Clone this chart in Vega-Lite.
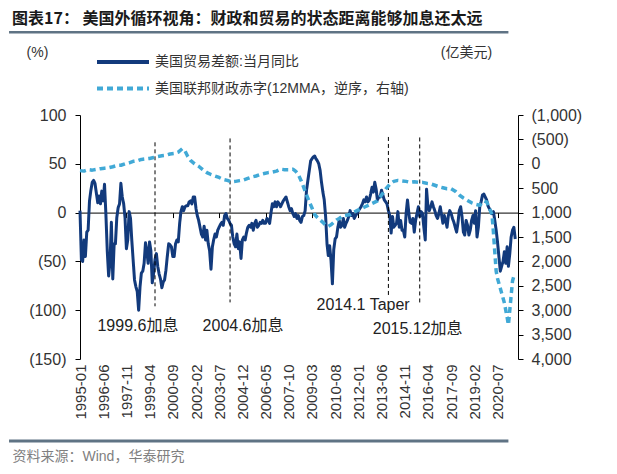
{
  "$schema": "https://vega.github.io/schema/vega-lite/v6.json",
  "width": 438,
  "height": 244,
  "autosize": {"type": "none"},
  "padding": {"left": 80, "top": 115, "right": 99, "bottom": 115},
  "background": "#ffffff",
  "config": {"view": {"stroke": null}, "font": "Liberation Sans, Noto Sans CJK SC"},
  "title": {
    "text": "图表17： 美国外循环视角：财政和贸易的状态距离能够加息还太远",
    "anchor": "start",
    "frame": "group",
    "font": "Noto Sans CJK SC",
    "fontSize": 16,
    "fontWeight": "bold",
    "color": "#1a1a1a",
    "dx": -68,
    "offset": 4
  },
  "datasets": {
    "trade": [
      {"d":"1995-01","v":2},{"d":"1995-02","v":-48},{"d":"1995-03","v":-50},{"d":"1995-04","v":-28},{"d":"1995-05","v":-45},{"d":"1995-06","v":-20},{"d":"1995-07","v":-18},{"d":"1995-08","v":12},{"d":"1995-09","v":23},{"d":"1995-10","v":31},{"d":"1995-11","v":33},{"d":"1995-12","v":30},
      {"d":"1996-01","v":20},{"d":"1996-02","v":10},{"d":"1996-03","v":17},{"d":"1996-04","v":9},{"d":"1996-05","v":22},{"d":"1996-06","v":12},{"d":"1996-07","v":29},{"d":"1996-08","v":-2},{"d":"1996-09","v":-40},{"d":"1996-10","v":-65},{"d":"1996-11","v":-50},{"d":"1996-12","v":-10},
      {"d":"1997-01","v":-68},{"d":"1997-02","v":-32},{"d":"1997-03","v":-32},{"d":"1997-04","v":-5},{"d":"1997-05","v":5},{"d":"1997-06","v":9},{"d":"1997-07","v":30},{"d":"1997-08","v":16},{"d":"1997-09","v":9},{"d":"1997-10","v":-5},{"d":"1997-11","v":-37},{"d":"1997-12","v":-28},
      {"d":"1998-01","v":1},{"d":"1998-02","v":-6},{"d":"1998-03","v":-28},{"d":"1998-04","v":-49},{"d":"1998-05","v":-69},{"d":"1998-06","v":-76},{"d":"1998-07","v":-81},{"d":"1998-08","v":-100},{"d":"1998-09","v":-76},{"d":"1998-10","v":-62},{"d":"1998-11","v":-60},{"d":"1998-12","v":-52},
      {"d":"1999-01","v":-31},{"d":"1999-02","v":-40},{"d":"1999-03","v":-52},{"d":"1999-04","v":-30},{"d":"1999-05","v":-39},{"d":"1999-06","v":-72},{"d":"1999-07","v":-62},{"d":"1999-08","v":-48},{"d":"1999-09","v":-42},{"d":"1999-10","v":-55},{"d":"1999-11","v":-63},{"d":"1999-12","v":-68},
      {"d":"2000-01","v":-77},{"d":"2000-02","v":-71},{"d":"2000-03","v":-69},{"d":"2000-04","v":-59},{"d":"2000-05","v":-45},{"d":"2000-06","v":-32},{"d":"2000-07","v":-33},{"d":"2000-08","v":-35},{"d":"2000-09","v":-45},{"d":"2000-10","v":-45},{"d":"2000-11","v":-32},{"d":"2000-12","v":-28},
      {"d":"2001-01","v":-30},{"d":"2001-02","v":-11},{"d":"2001-03","v":1},{"d":"2001-04","v":6},{"d":"2001-05","v":2},{"d":"2001-06","v":6},{"d":"2001-07","v":7},{"d":"2001-08","v":7},{"d":"2001-09","v":11},{"d":"2001-10","v":12},{"d":"2001-11","v":9},{"d":"2001-12","v":16},
      {"d":"2002-01","v":16},{"d":"2002-02","v":4},{"d":"2002-03","v":-3},{"d":"2002-04","v":-8},{"d":"2002-05","v":-15},{"d":"2002-06","v":-22},{"d":"2002-07","v":-25},{"d":"2002-08","v":-14},{"d":"2002-09","v":-28},{"d":"2002-10","v":-18},{"d":"2002-11","v":-32},{"d":"2002-12","v":-39},
      {"d":"2003-01","v":-58},{"d":"2003-02","v":-35},{"d":"2003-03","v":-28},{"d":"2003-04","v":-22},{"d":"2003-05","v":-25},{"d":"2003-06","v":-18},{"d":"2003-07","v":-15},{"d":"2003-08","v":-12},{"d":"2003-09","v":-10},{"d":"2003-10","v":-13},{"d":"2003-11","v":-3},{"d":"2003-12","v":-1},
      {"d":"2004-01","v":-6},{"d":"2004-02","v":-8},{"d":"2004-03","v":-11},{"d":"2004-04","v":-13},{"d":"2004-05","v":-25},{"d":"2004-06","v":-32},{"d":"2004-07","v":-35},{"d":"2004-08","v":-22},{"d":"2004-09","v":-37},{"d":"2004-10","v":-30},{"d":"2004-11","v":-47},{"d":"2004-12","v":-28},
      {"d":"2005-01","v":-25},{"d":"2005-02","v":-28},{"d":"2005-03","v":-21},{"d":"2005-04","v":-15},{"d":"2005-05","v":-13},{"d":"2005-06","v":-15},{"d":"2005-07","v":-11},{"d":"2005-08","v":-18},{"d":"2005-09","v":-11},{"d":"2005-10","v":-8},{"d":"2005-11","v":-15},{"d":"2005-12","v":-13},
      {"d":"2006-01","v":-10},{"d":"2006-02","v":-11},{"d":"2006-03","v":-8},{"d":"2006-04","v":-11},{"d":"2006-05","v":-11},{"d":"2006-06","v":-6},{"d":"2006-07","v":-8},{"d":"2006-08","v":-11},{"d":"2006-09","v":0},{"d":"2006-10","v":9},{"d":"2006-11","v":6},{"d":"2006-12","v":11},
      {"d":"2007-01","v":6},{"d":"2007-02","v":11},{"d":"2007-03","v":9},{"d":"2007-04","v":6},{"d":"2007-05","v":9},{"d":"2007-06","v":12},{"d":"2007-07","v":14},{"d":"2007-08","v":16},{"d":"2007-09","v":11},{"d":"2007-10","v":6},{"d":"2007-11","v":2},{"d":"2007-12","v":4},
      {"d":"2008-01","v":-1},{"d":"2008-02","v":-4},{"d":"2008-03","v":-1},{"d":"2008-04","v":-6},{"d":"2008-05","v":-3},{"d":"2008-06","v":-8},{"d":"2008-07","v":-10},{"d":"2008-08","v":-4},{"d":"2008-09","v":-3},{"d":"2008-10","v":2},{"d":"2008-11","v":23},{"d":"2008-12","v":33},
      {"d":"2009-01","v":43},{"d":"2009-02","v":53},{"d":"2009-03","v":55},{"d":"2009-04","v":57},{"d":"2009-05","v":58},{"d":"2009-06","v":55},{"d":"2009-07","v":53},{"d":"2009-08","v":50},{"d":"2009-09","v":43},{"d":"2009-10","v":31},{"d":"2009-11","v":21},{"d":"2009-12","v":13},
      {"d":"2010-01","v":-4},{"d":"2010-02","v":-32},{"d":"2010-03","v":-44},{"d":"2010-04","v":-34},{"d":"2010-05","v":-49},{"d":"2010-06","v":-73},{"d":"2010-07","v":-38},{"d":"2010-08","v":-27},{"d":"2010-09","v":-25},{"d":"2010-10","v":-15},{"d":"2010-11","v":-8},{"d":"2010-12","v":-15},
      {"d":"2011-01","v":-13},{"d":"2011-02","v":-6},{"d":"2011-03","v":-15},{"d":"2011-04","v":-11},{"d":"2011-05","v":-8},{"d":"2011-06","v":-4},{"d":"2011-07","v":2},{"d":"2011-08","v":-3},{"d":"2011-09","v":-1},{"d":"2011-10","v":-6},{"d":"2011-11","v":-3},{"d":"2011-12","v":-1},
      {"d":"2012-01","v":2},{"d":"2012-02","v":4},{"d":"2012-03","v":6},{"d":"2012-04","v":9},{"d":"2012-05","v":13},{"d":"2012-06","v":11},{"d":"2012-07","v":16},{"d":"2012-08","v":11},{"d":"2012-09","v":13},{"d":"2012-10","v":19},{"d":"2012-11","v":26},{"d":"2012-12","v":21},
      {"d":"2013-01","v":31},{"d":"2013-02","v":24},{"d":"2013-03","v":13},{"d":"2013-04","v":16},{"d":"2013-05","v":16},{"d":"2013-06","v":23},{"d":"2013-07","v":18},{"d":"2013-08","v":13},{"d":"2013-09","v":11},{"d":"2013-10","v":9},{"d":"2013-11","v":2},{"d":"2013-12","v":-3},
      {"d":"2014-01","v":-21},{"d":"2014-02","v":-4},{"d":"2014-03","v":-15},{"d":"2014-04","v":-13},{"d":"2014-05","v":-11},{"d":"2014-06","v":1},{"d":"2014-07","v":-15},{"d":"2014-08","v":-8},{"d":"2014-09","v":-18},{"d":"2014-10","v":-18},{"d":"2014-11","v":-25},{"d":"2014-12","v":-1},
      {"d":"2015-01","v":13},{"d":"2015-02","v":-1},{"d":"2015-03","v":-10},{"d":"2015-04","v":-11},{"d":"2015-05","v":-6},{"d":"2015-06","v":-20},{"d":"2015-07","v":-8},{"d":"2015-08","v":-1},{"d":"2015-09","v":6},{"d":"2015-10","v":-4},{"d":"2015-11","v":1},{"d":"2015-12","v":-1},
      {"d":"2016-01","v":-15},{"d":"2016-02","v":-28},{"d":"2016-03","v":24},{"d":"2016-04","v":6},{"d":"2016-05","v":2},{"d":"2016-06","v":6},{"d":"2016-07","v":11},{"d":"2016-08","v":6},{"d":"2016-09","v":2},{"d":"2016-10","v":-3},{"d":"2016-11","v":-6},{"d":"2016-12","v":-1},
      {"d":"2017-01","v":6},{"d":"2017-02","v":-3},{"d":"2017-03","v":-11},{"d":"2017-04","v":-3},{"d":"2017-05","v":-8},{"d":"2017-06","v":-15},{"d":"2017-07","v":-3},{"d":"2017-08","v":2},{"d":"2017-09","v":-1},{"d":"2017-10","v":-6},{"d":"2017-11","v":-10},{"d":"2017-12","v":-15},
      {"d":"2018-01","v":-20},{"d":"2018-02","v":-10},{"d":"2018-03","v":2},{"d":"2018-04","v":6},{"d":"2018-05","v":-4},{"d":"2018-06","v":-20},{"d":"2018-07","v":-23},{"d":"2018-08","v":-8},{"d":"2018-09","v":-13},{"d":"2018-10","v":-23},{"d":"2018-11","v":-18},{"d":"2018-12","v":-8},
      {"d":"2019-01","v":-3},{"d":"2019-02","v":-11},{"d":"2019-03","v":2},{"d":"2019-04","v":-25},{"d":"2019-05","v":-15},{"d":"2019-06","v":6},{"d":"2019-07","v":11},{"d":"2019-08","v":18},{"d":"2019-09","v":19},{"d":"2019-10","v":16},{"d":"2019-11","v":13},{"d":"2019-12","v":7},
      {"d":"2020-01","v":4},{"d":"2020-02","v":1},{"d":"2020-03","v":-1},{"d":"2020-04","v":1},{"d":"2020-05","v":-8},{"d":"2020-06","v":-18},{"d":"2020-07","v":-30},{"d":"2020-08","v":-45},{"d":"2020-09","v":-60},{"d":"2020-10","v":-55},{"d":"2020-11","v":-50},{"d":"2020-12","v":-40},
      {"d":"2021-01","v":-52},{"d":"2021-02","v":-35},{"d":"2021-03","v":-55},{"d":"2021-04","v":-42},{"d":"2021-05","v":-25},{"d":"2021-06","v":-18},{"d":"2021-07","v":-15},{"d":"2021-08","v":-27}
    ],
    "fiscal": [
      {"d":"1995-01","v":140},{"d":"1995-04","v":150},{"d":"1995-07","v":120},{"d":"1995-10","v":130},
      {"d":"1996-01","v":115},{"d":"1996-04","v":100},{"d":"1996-07","v":90},{"d":"1996-10","v":80},
      {"d":"1997-01","v":60},{"d":"1997-04","v":35},{"d":"1997-07","v":30},{"d":"1997-10","v":0},
      {"d":"1998-01","v":-20},{"d":"1998-04","v":-50},{"d":"1998-07","v":-60},{"d":"1998-10","v":-90},
      {"d":"1999-01","v":-100},{"d":"1999-04","v":-110},{"d":"1999-07","v":-130},{"d":"1999-10","v":-150},
      {"d":"2000-01","v":-165},{"d":"2000-04","v":-175},{"d":"2000-07","v":-200},{"d":"2000-10","v":-210},
      {"d":"2001-01","v":-240},{"d":"2001-04","v":-310},{"d":"2001-06","v":-260},{"d":"2001-08","v":-150},{"d":"2001-10","v":-70},
      {"d":"2002-01","v":0},{"d":"2002-04","v":50},{"d":"2002-07","v":120},{"d":"2002-10","v":180},
      {"d":"2003-01","v":220},{"d":"2003-04","v":250},{"d":"2003-07","v":280},{"d":"2003-10","v":320},
      {"d":"2004-01","v":340},{"d":"2004-04","v":370},{"d":"2004-07","v":360},{"d":"2004-10","v":345},
      {"d":"2005-01","v":330},{"d":"2005-04","v":300},{"d":"2005-07","v":270},{"d":"2005-10","v":250},
      {"d":"2006-01","v":220},{"d":"2006-04","v":200},{"d":"2006-07","v":180},{"d":"2006-10","v":170},
      {"d":"2007-01","v":150},{"d":"2007-04","v":110},{"d":"2007-07","v":120},{"d":"2007-10","v":120},
      {"d":"2008-01","v":110},{"d":"2008-03","v":150},{"d":"2008-05","v":220},{"d":"2008-07","v":340},{"d":"2008-10","v":560},
      {"d":"2009-01","v":780},{"d":"2009-03","v":900},{"d":"2009-05","v":1040},{"d":"2009-07","v":1100},{"d":"2009-09","v":1150},{"d":"2009-11","v":1200},
      {"d":"2010-01","v":1260},{"d":"2010-03","v":1280},{"d":"2010-05","v":1250},{"d":"2010-07","v":1200},{"d":"2010-09","v":1150},{"d":"2010-11","v":1120},
      {"d":"2011-01","v":1080},{"d":"2011-03","v":1060},{"d":"2011-05","v":1050},{"d":"2011-07","v":1040},{"d":"2011-09","v":1000},{"d":"2011-12","v":960},
      {"d":"2012-03","v":920},{"d":"2012-06","v":880},{"d":"2012-09","v":840},{"d":"2012-12","v":800},
      {"d":"2013-03","v":760},{"d":"2013-06","v":640},{"d":"2013-09","v":520},{"d":"2013-12","v":420},
      {"d":"2014-03","v":360},{"d":"2014-06","v":340},{"d":"2014-09","v":350},{"d":"2014-12","v":360},
      {"d":"2015-03","v":380},{"d":"2015-06","v":370},{"d":"2015-09","v":380},{"d":"2015-12","v":380},
      {"d":"2016-03","v":400},{"d":"2016-06","v":410},{"d":"2016-09","v":440},{"d":"2016-12","v":470},
      {"d":"2017-03","v":490},{"d":"2017-06","v":510},{"d":"2017-09","v":510},{"d":"2017-12","v":560},
      {"d":"2018-03","v":640},{"d":"2018-06","v":700},{"d":"2018-09","v":750},{"d":"2018-12","v":800},
      {"d":"2019-03","v":830},{"d":"2019-06","v":850},{"d":"2019-09","v":760},{"d":"2019-11","v":780},
      {"d":"2020-01","v":900},{"d":"2020-03","v":1050},{"d":"2020-04","v":1400},{"d":"2020-05","v":1800},{"d":"2020-06","v":2200},{"d":"2020-07","v":2350},{"d":"2020-08","v":2450},{"d":"2020-09","v":2550},{"d":"2020-10","v":2650},{"d":"2020-11","v":2750},{"d":"2020-12","v":2850},
      {"d":"2021-01","v":3000},{"d":"2021-02","v":3150},{"d":"2021-03","v":3300},{"d":"2021-04","v":3000},{"d":"2021-05","v":2700},{"d":"2021-06","v":2400},{"d":"2021-07","v":2300},{"d":"2021-08","v":2300}
    ],
    "events": [
      {"d":"1999-08","top":72,"bottom":-96,"label":"1999.6加息","ld":"1998-07-16","ly":-116.5},
      {"d":"2004-03","top":76,"bottom":-92,"label":"2004.6加息","ld":"2004-12-16","ly":-116.5},
      {"d":"2013-11","top":77.5,"bottom":-86,"label":"2014.1 Taper","ld":"2012-04-16","ly":-95},
      {"d":"2015-10","top":77,"bottom":-93,"label":"2015.12加息","ld":"2015-08-16","ly":-119.5}
    ]
  },
  "layer": [
    {
      "layer": [
        {
          "data": {"name": "trade"},
          "mark": {"type": "line", "strokeWidth": 3, "strokeJoin": "round"},
          "encoding": {
            "x": {
              "field": "d", "type": "temporal",
              "scale": {"type": "utc", "domain": [{"year": 1995, "month": 1, "date": 1, "utc": true}, {"year": 2021, "month": 10, "date": 1, "utc": true}]},
              "axis": {
                "orient": "bottom", "offset": -146.4, "labels": false, "ticks": true, "tickSize": 5, "tickColor": "#000000",
                "domain": true, "domainColor": "#000000", "domainWidth": 1, "grid": false, "title": null,
                "values": [
                  {"year":1995,"month":1,"utc":true},{"year":1996,"month":6,"utc":true},{"year":1997,"month":11,"utc":true},{"year":1999,"month":4,"utc":true},
                  {"year":2000,"month":9,"utc":true},{"year":2002,"month":2,"utc":true},{"year":2003,"month":7,"utc":true},{"year":2004,"month":12,"utc":true},
                  {"year":2006,"month":5,"utc":true},{"year":2007,"month":10,"utc":true},{"year":2009,"month":3,"utc":true},{"year":2010,"month":8,"utc":true},
                  {"year":2012,"month":1,"utc":true},{"year":2013,"month":6,"utc":true},{"year":2014,"month":11,"utc":true},{"year":2016,"month":4,"utc":true},
                  {"year":2017,"month":9,"utc":true},{"year":2019,"month":2,"utc":true},{"year":2020,"month":7,"utc":true}
                ]
              }
            },
            "y": {
              "field": "v", "type": "quantitative",
              "scale": {"domain": [-150, 100], "nice": false, "zero": false},
              "axis": {
                "orient": "left", "values": [-150, -100, -50, 0, 50, 100],
                "labelExpr": "datum.value < 0 ? '(' + format(-datum.value, ',') + ')' : format(datum.value, ',') + '\u00a0'",
                "grid": false, "domainColor": "#000000", "tickColor": "#000000", "tickSize": 5,
                "labelFont": "Liberation Sans", "labelFontSize": 16, "labelColor": "#333333", "labelPadding": 9,
                "title": "(%)", "titleAngle": 0, "titleX": -43, "titleY": -63, "titleAlign": "center", "titleBaseline": "middle",
                "titleFont": "Liberation Sans", "titleFontSize": 14, "titleFontWeight": "normal", "titleColor": "#333333"
              }
            },
            "color": {
              "datum": "美国贸易差额:当月同比",
              "scale": {"domain": ["美国贸易差额:当月同比", "美国联邦财政赤字(12MMA，逆序，右轴)"], "range": ["#123a7c", "#41a9d6"]},
              "legend": {
                "orient": "none", "legendX": 15, "legendY": -63, "title": null, "direction": "vertical",
                "symbolType": "stroke", "symbolSize": 2704, "symbolStrokeWidth": 4, "clipHeight": 20, "rowPadding": 6.6,
                "labelFont": "Liberation Sans, Noto Sans CJK SC", "labelFontSize": 14, "labelColor": "#333333", "labelOffset": 4, "labelLimit": 500, "padding": 0
              }
            },
            "strokeDash": {
              "datum": "美国贸易差额:当月同比",
              "scale": {"domain": ["美国贸易差额:当月同比", "美国联邦财政赤字(12MMA，逆序，右轴)"], "range": [[1, 0], [6, 4]]},
              "legend": {
                "orient": "none", "legendX": 15, "legendY": -63, "title": null, "direction": "vertical",
                "symbolType": "stroke", "symbolSize": 2704, "symbolStrokeWidth": 4, "clipHeight": 20, "rowPadding": 6.6,
                "labelFont": "Liberation Sans, Noto Sans CJK SC", "labelFontSize": 14, "labelColor": "#333333", "labelOffset": 4, "labelLimit": 500, "padding": 0
              }
            }
          }
        },
        {
          "data": {"values": [{}]},
          "mark": {"type": "rule", "color": "#5f7384", "strokeWidth": 2.5, "clip": false},
          "encoding": {
            "x": {"datum": {"year": 1990, "month": 9, "utc": true}, "type": "temporal"},
            "x2": {"datum": {"year": 2021, "month": 3, "utc": true}},
            "y": {"datum": 184.7, "type": "quantitative"}
          }
        },
        {
          "data": {"values": [{}]},
          "mark": {"type": "rule", "color": "#5f7384", "strokeWidth": 3, "clip": false},
          "encoding": {
            "x": {"datum": {"year": 1990, "month": 9, "utc": true}, "type": "temporal"},
            "x2": {"datum": {"year": 2021, "month": 3, "utc": true}},
            "y": {"datum": -234, "type": "quantitative"}
          }
        },
        {
          "data": {"name": "events"},
          "mark": {"type": "rule", "color": "#000000", "strokeWidth": 1, "strokeDash": [4, 3]},
          "encoding": {
            "x": {"field": "d", "type": "temporal"},
            "y": {"field": "top", "type": "quantitative"},
            "y2": {"field": "bottom"}
          }
        },
        {
          "data": {"name": "events"},
          "mark": {"type": "text", "fontSize": 16, "font": "Liberation Sans, Noto Sans CJK SC", "color": "#222222", "align": "center", "baseline": "middle"},
          "encoding": {
            "x": {"field": "ld", "type": "temporal"},
            "y": {"field": "ly", "type": "quantitative"},
            "text": {"field": "label"}
          }
        }
      ]
    },
    {
      "data": {"name": "fiscal"},
      "mark": {"type": "line", "strokeWidth": 3.5, "strokeJoin": "round"},
      "encoding": {
        "x": {
          "field": "d", "type": "temporal",
          "scale": {"type": "utc", "domain": [{"year": 1995, "month": 1, "date": 1, "utc": true}, {"year": 2021, "month": 10, "date": 1, "utc": true}]},
          "axis": {
            "orient": "bottom", "labels": true, "ticks": false, "domain": false, "grid": false,
            "format": "%Y-%m", "labelAngle": 270, "labelFont": "Liberation Sans", "labelFontSize": 15, "labelColor": "#333333", "labelPadding": 5,
            "labelOverlap": false, "labelFlush": false,
            "values": [
              {"year":1995,"month":1,"utc":true},{"year":1996,"month":6,"utc":true},{"year":1997,"month":11,"utc":true},{"year":1999,"month":4,"utc":true},
              {"year":2000,"month":9,"utc":true},{"year":2002,"month":2,"utc":true},{"year":2003,"month":7,"utc":true},{"year":2004,"month":12,"utc":true},
              {"year":2006,"month":5,"utc":true},{"year":2007,"month":10,"utc":true},{"year":2009,"month":3,"utc":true},{"year":2010,"month":8,"utc":true},
              {"year":2012,"month":1,"utc":true},{"year":2013,"month":6,"utc":true},{"year":2014,"month":11,"utc":true},{"year":2016,"month":4,"utc":true},
              {"year":2017,"month":9,"utc":true},{"year":2019,"month":2,"utc":true},{"year":2020,"month":7,"utc":true}
            ],
            "title": "资料来源：Wind，华泰研究", "titleAngle": 0, "titleX": -68, "titleY": 97, "titleAlign": "left", "titleBaseline": "middle",
            "titleFont": "Liberation Sans, Noto Sans CJK SC", "titleFontSize": 14, "titleFontWeight": "normal", "titleColor": "#7f7f7f"
          }
        },
        "y": {
          "field": "v", "type": "quantitative",
          "scale": {"domain": [-1000, 4000], "reverse": true, "nice": false, "zero": false},
          "axis": {
            "orient": "right", "values": [-1000, -500, 0, 500, 1000, 1500, 2000, 2500, 3000, 3500, 4000],
            "labelExpr": "datum.value < 0 ? '(' + format(-datum.value, ',') + ')' : format(datum.value, ',')",
            "grid": false, "domainColor": "#000000", "tickColor": "#000000", "tickSize": 5,
            "labelFont": "Liberation Sans", "labelFontSize": 16, "labelColor": "#333333", "labelPadding": 8,
            "title": "(亿美元)", "titleAngle": 0, "titleX": -52, "titleY": -63, "titleAlign": "center", "titleBaseline": "middle",
            "titleFont": "Liberation Sans, Noto Sans CJK SC", "titleFontSize": 14, "titleFontWeight": "normal", "titleColor": "#333333"
          }
        },
        "color": {
          "datum": "美国联邦财政赤字(12MMA，逆序，右轴)",
          "scale": {"domain": ["美国贸易差额:当月同比", "美国联邦财政赤字(12MMA，逆序，右轴)"], "range": ["#123a7c", "#41a9d6"]}
        },
        "strokeDash": {
          "datum": "美国联邦财政赤字(12MMA，逆序，右轴)",
          "scale": {"domain": ["美国贸易差额:当月同比", "美国联邦财政赤字(12MMA，逆序，右轴)"], "range": [[1, 0], [6, 4]]}
        }
      }
    }
  ],
  "resolve": {"scale": {"y": "independent"}, "axis": {"x": "independent"}}
}
